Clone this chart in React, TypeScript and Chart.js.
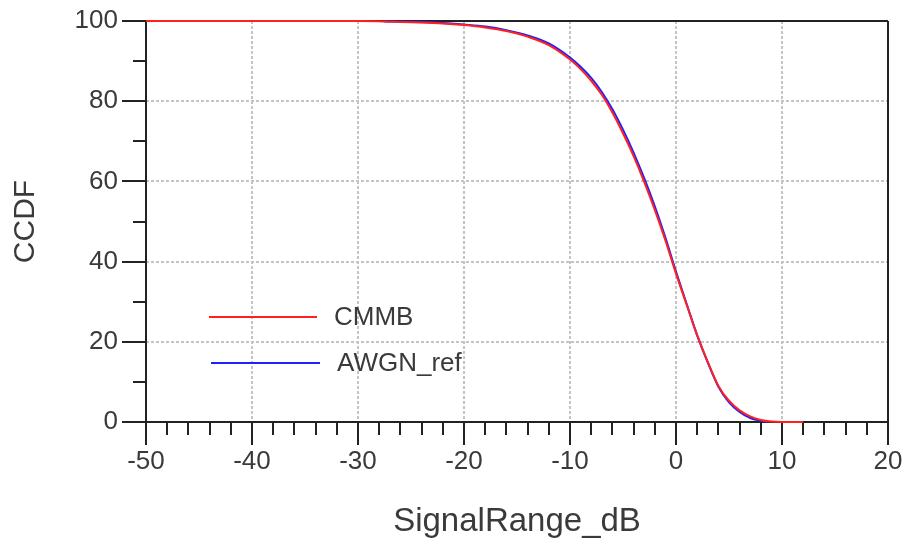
import React, { useEffect, useRef } from "react";
import { Chart, registerables } from "chart.js";

Chart.register(...registerables);

const CMMB_X = [-50, -30, -27.5, -25, -22, -20, -18, -16, -14, -12, -10, -9, -8, -7, -6, -5, -4, -3, -2, -1, 0, 1, 2, 3, 4, 5, 6, 7, 8, 9, 10, 12];
const CMMB_Y = [100, 100, 99.9, 99.7, 99.4, 99.0, 98.4, 97.5, 96.1, 94.0, 90.4, 88.0, 85.1, 81.6, 77.2, 72.0, 66.3, 59.9, 52.9, 45.3, 37.0, 29.3, 21.6, 15.0, 9.0, 5.3, 2.9, 1.4, 0.5, 0.1, 0, 0];

const AWGN_X = [-27.5, -25, -22, -20, -18, -16, -14, -12, -10, -9, -8, -7, -6, -5, -4, -3, -2, -1, 0, 1, 2, 3, 4, 5, 6, 7, 8, 8.6];
const AWGN_Y = [99.9, 99.8, 99.5, 99.1, 98.6, 97.7, 96.4, 94.4, 90.9, 88.6, 85.8, 82.3, 78.0, 72.9, 67.2, 60.8, 53.8, 46.0, 37.5, 29.5, 21.6, 14.8, 8.8, 4.9, 2.5, 1.0, 0.3, 0];

const SERIES_NAMES = ["CMMB", "AWGN_ref"];
const SERIES_COLORS = ["#ff2020", "#2020ff"];
const X_MIN = -50;
const X_MAX = 20;
const Y_MIN = 0;
const Y_MAX = 100;
const X_TITLE = "SignalRange_dB";
const Y_TITLE = "CCDF";

const FONT = "'Liberation Sans', Arial, sans-serif";
const TEXT_COLOR = "#3a3a3a";
const AXIS_COLOR = "#222222";

const framePlugin = {
  id: "frame",
  beforeDatasetsDraw(chart: any) {
    const { ctx, chartArea } = chart;
    const xs = chart.scales.x;
    const ys = chart.scales.y;
    const { left, right, top, bottom } = chartArea;
    ctx.save();
    ctx.strokeStyle = AXIS_COLOR;
    ctx.lineWidth = 2;
    ctx.beginPath();
    ctx.moveTo(left, top);
    ctx.lineTo(right, top);
    ctx.moveTo(right, top);
    ctx.lineTo(right, bottom);
    ctx.moveTo(left, top);
    ctx.lineTo(left, bottom);
    ctx.moveTo(left, bottom);
    ctx.lineTo(right, bottom);
    for (let v = X_MIN; v <= X_MAX; v += 2) {
      const px = Math.round(xs.getPixelForValue(v));
      const major = v % 10 === 0;
      ctx.moveTo(px, bottom);
      ctx.lineTo(px, bottom + (major ? 23 : 13));
    }
    for (let v = Y_MIN; v <= Y_MAX; v += 10) {
      const py = Math.round(ys.getPixelForValue(v));
      const major = v % 20 === 0;
      ctx.moveTo(left, py);
      ctx.lineTo(left - (major ? 24 : 13), py);
    }
    ctx.stroke();
    ctx.restore();
  },
  afterDatasetsDraw(chart: any) {
    const { ctx } = chart;
    const items = [
      { y: 317, x0: 209, x1: 317, tx: 334 },
      { y: 363, x0: 211, x1: 320, tx: 337 },
    ];
    ctx.save();
    ctx.font = `26px ${FONT}`;
    ctx.textBaseline = "middle";
    ctx.textAlign = "left";
    items.forEach((it, i) => {
      ctx.strokeStyle = SERIES_COLORS[i];
      ctx.lineWidth = 2;
      ctx.beginPath();
      ctx.moveTo(it.x0, it.y);
      ctx.lineTo(it.x1, it.y);
      ctx.stroke();
      ctx.fillStyle = TEXT_COLOR;
      ctx.fillText(SERIES_NAMES[i], it.tx, it.y + 1);
    });
    ctx.restore();
  },
};

export default function App() {
  const ref = useRef<HTMLCanvasElement>(null);
  useEffect(() => {
    const canvas = ref.current!;
    const chart = new Chart(canvas, {
      type: "line",
      data: {
        datasets: [
          {
            label: SERIES_NAMES[0],
            data: CMMB_X.map((x, i) => ({ x, y: CMMB_Y[i] })),
            borderColor: SERIES_COLORS[0],
            borderWidth: 2,
            pointRadius: 0,
            cubicInterpolationMode: "monotone",
            fill: false,
            clip: false,
          },
          {
            label: SERIES_NAMES[1],
            data: AWGN_X.map((x, i) => ({ x, y: AWGN_Y[i] })),
            borderColor: SERIES_COLORS[1],
            borderWidth: 2,
            pointRadius: 0,
            cubicInterpolationMode: "monotone",
            fill: false,
            clip: false,
          },
        ],
      },
      options: {
        responsive: false,
        animation: false,
        devicePixelRatio: 1,
        layout: { padding: { top: 21, right: 16, left: 0, bottom: 0 } },
        plugins: { legend: { display: false }, tooltip: { enabled: false } },
        scales: {
          x: {
            type: "linear",
            min: X_MIN,
            max: X_MAX,
            afterFit: (s: any) => {
              s.height = 121;
              s.paddingLeft = 0;
              s.paddingRight = 0;
              s.paddingTop = 0;
              s.paddingBottom = 0;
            },
            ticks: {
              stepSize: 10,
              padding: 24,
              color: TEXT_COLOR,
              font: { family: FONT, size: 26 },
              maxRotation: 0,
            },
            grid: {
              color: "#c4c4c4",
              lineWidth: 2,
              drawTicks: false,
            },
            border: { display: false, dash: [3, 2] },
            title: {
              display: true,
              text: X_TITLE,
              color: TEXT_COLOR,
              font: { family: FONT, size: 33 },
              padding: { top: 0, bottom: 1 },
            },
          },
          y: {
            type: "linear",
            min: Y_MIN,
            max: Y_MAX,
            afterFit: (s: any) => {
              s.width = 146;
              s.paddingLeft = 0;
              s.paddingRight = 0;
              s.paddingTop = 0;
              s.paddingBottom = 0;
            },
            ticks: {
              stepSize: 20,
              padding: 28,
              color: TEXT_COLOR,
              font: { family: FONT, size: 26 },
            },
            grid: {
              color: "#c4c4c4",
              lineWidth: 2,
              drawTicks: false,
            },
            border: { display: false, dash: [3, 2] },
            title: {
              display: true,
              text: Y_TITLE,
              color: TEXT_COLOR,
              font: { family: FONT, size: 30 },
              padding: { top: 8, bottom: 0 },
            },
          },
        },
      },
      plugins: [framePlugin],
    } as any);
    return () => chart.destroy();
  }, []);
  return (
    <div style={{ position: "fixed", left: 0, top: 0, width: 904, height: 543, background: "#fff" }}>
      <canvas ref={ref} width={904} height={543} />
    </div>
  );
}
